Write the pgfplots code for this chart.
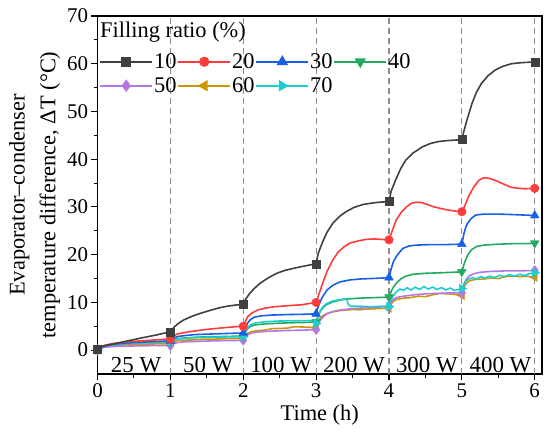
\documentclass[border=0pt]{standalone}
\usepackage{fontspec}
\setmainfont{Liberation Serif}
\usepackage{pgfplots}
\pgfplotsset{compat=1.18}
\definecolor{c10}{RGB}{64,64,64}
\definecolor{c20}{RGB}{255,59,59}
\definecolor{c30}{RGB}{22,95,230}
\definecolor{c40}{RGB}{35,170,95}
\definecolor{c50}{RGB}{180,120,230}
\definecolor{c60}{RGB}{205,150,10}
\definecolor{c70}{RGB}{30,205,205}
\definecolor{dgray}{RGB}{140,140,140}
\pgfplotsset{
  legline/.style={legend image code/.code={\draw[mark repeat=2,mark phase=2] plot coordinates {(0bp,0bp)(26bp,0bp)(52bp,0bp)};}},
  ser/.style={#1, line width=1.6pt, no markers},
  mk/.style={#1, only marks, mark options={solid, fill=#1, draw=#1}},
}
\begin{document}
\begin{tikzpicture}
\begin{axis}[
  name=ax, at={(0,0)}, anchor=south west,
  scale only axis, width=444.5bp, height=358bp,
  xmin=0, xmax=6.1, ymin=-5, ymax=70,
  xtick={0,1,2,3,4,5,6}, ytick={0,10,20,30,40,50,60,70},
  minor x tick num=1, minor y tick num=1,
  tick pos=left, tick align=outside,
  major tick length=6bp, minor tick length=3.5bp,
  axis line style={line width=1.1pt},
  every tick/.style={black, line width=1.1pt},
  /pgf/number format/assume math mode=true,
  ticklabel style={font=\fontsize{21}{21}\selectfont},
  xlabel={Time (h)},
  ylabel={Evaporator–condenser\\temperature difference, ΔT (°C)},
  label style={font=\fontsize{22.5}{31}\selectfont},
  ylabel style={align=center},
  legend columns=4,
  legend style={draw=none, fill=none, at={(0.004,0.898)}, anchor=north west,
    font=\fontsize{22.5}{22.5}\selectfont, inner sep=0pt, row sep=6bp,
    nodes={inner sep=1bp, text height=15bp, text depth=1bp}},
]
% vertical dashed separators
\addplot[forget plot, dgray, line width=1.1pt, dash pattern=on 6bp off 4bp] coordinates {(1,-5)(1,70)};
\addplot[forget plot, dgray, line width=1.1pt, dash pattern=on 6bp off 4bp] coordinates {(2,-5)(2,70)};
\addplot[forget plot, dgray, line width=1.1pt, dash pattern=on 6bp off 4bp] coordinates {(3,-5)(3,70)};
\addplot[forget plot, dgray, line width=1.1pt, dash pattern=on 6bp off 4bp] coordinates {(4,-5)(4,70)};
\addplot[forget plot, dgray, line width=1.1pt, dash pattern=on 6bp off 4bp] coordinates {(5,-5)(5,70)};
\addplot[forget plot, dgray, line width=1.1pt, dash pattern=on 6bp off 4bp] coordinates {(6,-5)(6,70)};

% 60 %
\addplot[forget plot, ser=c60] coordinates {
(0,0.0)(0.05,0.5)(0.1,0.75)(0.2,0.95)(0.4,1.15)(0.6,1.25)(0.8,1.3)(1,1.35)
(1.04,1.8)(1.1,2.0)(1.2,2.1)(1.35,2.15)(1.45,2.3)(1.6,2.3)(1.75,2.4)(1.9,2.45)(2,2.45)
(2.03,3.0)(2.07,3.6)(2.12,3.9)(2.2,4.1)(2.3,4.2)(2.4,4.5)(2.5,4.55)(2.6,4.6)(2.7,4.9)(2.8,4.85)(2.9,4.8)(3,4.7)
(3.03,6.0)(3.06,6.8)(3.1,7.3)(3.15,7.7)(3.23,8.0)(3.33,8.3)(3.5,8.5)(3.6,8.45)(3.7,8.6)(3.85,8.7)(4,8.8)
(4.03,9.7)(4.06,10.2)(4.1,10.6)(4.2,10.9)(4.3,11.0)(4.4,11.3)(4.5,11.2)(4.6,11.6)(4.7,11.9)(4.8,11.8)(4.9,11.7)(5,11.5)
(5.03,13.2)(5.06,14.0)(5.1,14.5)(5.18,14.8)(5.3,14.9)(5.4,15.1)(5.5,15.0)(5.6,15.4)(5.7,15.5)(5.8,15.4)(5.9,15.5)(5.97,15.2)(6,15.3)};
% 50 %
\addplot[forget plot, ser=c50] coordinates {
(0,0.0)(0.05,0.4)(0.1,0.6)(0.2,0.75)(0.4,0.85)(0.6,0.9)(0.8,0.95)(1,0.95)
(1.04,1.3)(1.1,1.6)(1.2,1.75)(1.4,1.85)(1.6,1.95)(1.8,2.0)(2,2.05)
(2.03,2.8)(2.07,3.3)(2.12,3.6)(2.2,3.8)(2.35,3.95)(2.5,4.05)(2.7,4.15)(2.85,4.2)(3,4.3)
(3.03,5.5)(3.06,6.3)(3.1,7.0)(3.15,7.6)(3.23,8.1)(3.33,8.4)(3.5,8.7)(3.7,8.9)(3.85,9.0)(4,9.2)
(4.03,10.0)(4.06,10.6)(4.1,11.0)(4.2,11.3)(4.35,11.6)(4.5,11.8)(4.7,11.9)(4.85,12.0)(5,12.0)
(5.03,13.8)(5.06,14.8)(5.1,15.5)(5.16,16.0)(5.25,16.3)(5.4,16.5)(5.6,16.6)(5.8,16.6)(6,16.7)};
% 40 %
\addplot[forget plot, ser=c40] coordinates {
(0,0.1)(0.05,0.55)(0.1,0.85)(0.2,1.1)(0.35,1.35)(0.5,1.5)(0.7,1.6)(0.85,1.7)(1,1.75)
(1.04,2.2)(1.1,2.4)(1.2,2.55)(1.35,2.7)(1.5,2.8)(1.7,2.85)(2,2.95)
(2.03,3.8)(2.06,4.5)(2.1,5.0)(2.17,5.3)(2.3,5.5)(2.5,5.65)(2.7,5.75)(2.85,5.8)(3,5.9)
(3.03,7.2)(3.06,8.2)(3.1,9.0)(3.15,9.6)(3.23,10.1)(3.33,10.5)(3.46,10.75)(3.6,10.9)(3.8,11.0)(4,11.1)
(4.03,12.3)(4.06,13.2)(4.1,14.0)(4.16,14.9)(4.23,15.5)(4.33,15.9)(4.5,16.1)(4.7,16.2)(4.85,16.3)(5,16.4)
(5.03,18.0)(5.06,19.2)(5.08,19.9)(5.13,21.0)(5.2,21.7)(5.3,22.0)(5.5,22.2)(5.7,22.3)(5.85,22.3)(6,22.4)};
% 70 %
\addplot[forget plot, ser=c70] coordinates {
(0,0.0)(0.05,0.55)(0.1,0.85)(0.2,1.1)(0.35,1.35)(0.5,1.5)(0.7,1.6)(0.85,1.65)(1,1.7)
(1.04,2.1)(1.1,2.35)(1.2,2.5)(1.35,2.6)(1.5,2.7)(1.7,2.75)(2,2.8)
(2.03,3.9)(2.06,4.7)(2.1,5.3)(2.17,5.7)(2.3,5.95)(2.5,6.1)(2.7,6.15)(2.95,6.2)(3,5.6)
(3.03,7.3)(3.06,8.3)(3.1,9.2)(3.15,9.8)(3.23,10.3)(3.33,10.6)(3.42,10.8)(3.44,9.6)(3.47,9.2)(3.6,9.2)(3.75,9.1)(3.9,9.2)(4,9.1)
(4.03,10.6)(4.06,11.4)(4.1,12.2)(4.15,12.8)(4.2,12.5)(4.25,13.1)(4.3,12.6)(4.36,13.2)(4.42,12.7)(4.48,13.3)(4.54,12.8)(4.6,13.2)(4.66,12.7)(4.72,13.1)(4.78,12.6)(4.84,13.0)(4.9,12.5)(4.95,12.7)(5,12.9)
(5.03,14.0)(5.06,14.6)(5.1,14.9)(5.15,15.2)(5.2,14.9)(5.26,15.4)(5.32,15.1)(5.38,15.5)(5.45,15.2)(5.52,15.7)(5.58,15.4)(5.65,15.8)(5.72,15.5)(5.8,15.9)(5.86,15.6)(5.92,16.0)(6,16.2)};
% 30 %
\addplot[forget plot, ser=c30] coordinates {
(0,0.1)(0.05,0.6)(0.1,0.9)(0.2,1.2)(0.35,1.45)(0.5,1.6)(0.7,1.75)(0.85,1.85)(1,1.95)
(1.04,2.5)(1.1,2.85)(1.2,3.05)(1.33,3.25)(1.5,3.35)(1.7,3.45)(2,3.6)
(2.03,4.6)(2.06,5.7)(2.1,6.4)(2.15,6.9)(2.25,7.2)(2.4,7.35)(2.6,7.45)(2.8,7.5)(3,7.6)
(3.03,9.2)(3.06,10.3)(3.09,11.2)(3.15,12.6)(3.23,13.6)(3.33,14.3)(3.46,14.7)(3.6,14.9)(3.75,15.0)(3.9,15.1)(4,15.2)
(4.03,17.0)(4.06,18.5)(4.1,19.6)(4.15,20.6)(4.19,21.3)(4.27,21.8)(4.37,22.0)(4.55,22.1)(4.75,22.1)(5,22.2)
(5.03,24.5)(5.06,26.0)(5.08,26.6)(5.13,27.6)(5.19,28.3)(5.3,28.5)(5.5,28.5)(5.7,28.4)(5.85,28.3)(6,28.2)};
% 20 %
\addplot[forget plot, ser=c20] coordinates {
(0,0.2)(0.05,0.7)(0.1,1.0)(0.2,1.35)(0.35,1.65)(0.5,1.85)(0.7,2.05)(0.85,2.2)(1,2.3)
(1.04,3.0)(1.1,3.4)(1.2,3.7)(1.33,4.0)(1.5,4.35)(1.7,4.65)(1.85,4.85)(2,5.0)
(2.03,6.0)(2.06,7.0)(2.12,7.8)(2.2,8.4)(2.3,8.8)(2.43,9.1)(2.6,9.3)(2.8,9.5)(3,10.0)
(3.04,11.8)(3.09,14.0)(3.15,16.5)(3.23,18.9)(3.3,20.5)(3.38,21.6)(3.46,22.4)(3.58,22.9)(3.69,23.2)(3.8,23.3)(3.9,23.2)(4,23.1)
(4.04,24.8)(4.1,27.3)(4.17,28.9)(4.24,30.0)(4.3,30.7)(4.37,31.0)(4.45,30.9)(4.53,30.5)(4.6,30.1)(4.7,29.7)(4.83,29.3)(4.92,29.1)(5,29.0)
(5.04,30.2)(5.09,32.1)(5.16,34.1)(5.23,35.5)(5.28,36.0)(5.33,36.1)(5.4,35.9)(5.5,35.3)(5.6,34.6)(5.68,34.1)(5.78,33.9)(5.87,33.8)(6,33.9)};
% 10 %
\addplot[forget plot, ser=c10] coordinates {
(0,0.2)(0.05,0.7)(0.1,0.95)(0.2,1.25)(0.3,1.55)(0.4,1.9)(0.5,2.2)(0.6,2.55)(0.7,2.85)(0.8,3.15)(0.9,3.5)(1,3.8)
(1.05,4.8)(1.1,5.5)(1.18,6.3)(1.3,7.1)(1.41,7.7)(1.55,8.35)(1.68,8.9)(1.8,9.25)(1.9,9.45)(2,9.6)
(2.03,10.6)(2.09,11.9)(2.15,12.9)(2.23,14.0)(2.35,15.2)(2.46,16.1)(2.57,16.7)(2.68,17.1)(2.8,17.5)(2.9,17.8)(3,18.1)
(3.03,20.3)(3.09,22.7)(3.15,24.7)(3.23,26.6)(3.32,28.0)(3.41,29.0)(3.52,29.9)(3.64,30.5)(3.76,30.8)(3.87,31.0)(4,31.1)
(4.03,33.3)(4.09,35.6)(4.16,38.0)(4.23,39.8)(4.33,41.3)(4.46,42.6)(4.57,43.3)(4.68,43.7)(4.8,43.9)(4.9,44.0)(5,44.1)
(5.03,46.0)(5.07,48.2)(5.14,51.7)(5.2,54.0)(5.27,55.9)(5.36,57.5)(5.46,58.7)(5.57,59.5)(5.68,60.0)(5.8,60.2)(5.9,60.3)(6,60.4)};

% markers at the hour marks
\addplot[forget plot, mk=c60, mark=triangle*, mark size=5bp, mark options={rotate=90}] coordinates {(0,0.0)(1,1.35)(2,2.45)(3,4.7)(4,8.8)(5,11.5)(6,15.3)};
\addplot[forget plot, mk=c50, mark=diamond*, mark size=5bp] coordinates {(0,0.0)(1,0.95)(2,2.05)(3,4.3)(4,9.2)(5,12.0)(6,16.7)};
\addplot[forget plot, mk=c40, mark=triangle*, mark size=5bp, mark options={rotate=180}] coordinates {(0,0.1)(1,1.75)(2,2.95)(3,5.9)(4,11.1)(5,16.4)(6,22.4)};
\addplot[forget plot, mk=c70, mark=triangle*, mark size=5bp, mark options={rotate=-90}] coordinates {(0,0.0)(1,1.7)(2,2.8)(3,5.6)(4,9.1)(5,12.9)(6,16.2)};
\addplot[forget plot, mk=c30, mark=triangle*, mark size=5bp] coordinates {(0,0.1)(1,1.95)(2,3.6)(3,7.6)(4,15.2)(5,22.2)(6,28.2)};
\addplot[forget plot, mk=c20, mark=*, mark size=4.3bp] coordinates {(0,0.2)(1,2.3)(2,5.0)(3,10.0)(4,23.1)(5,29.0)(6,33.9)};
\addplot[forget plot, mk=c10, mark=square*, mark size=4bp] coordinates {(0,0.2)(1,3.8)(2,9.6)(3,18.1)(4,31.1)(5,44.1)(6,60.4)};

% power labels
\node[anchor=base, font=\fontsize{23}{23}\selectfont] at (axis cs:0.53,-4.7) {25 W};
\node[anchor=base, font=\fontsize{23}{23}\selectfont] at (axis cs:1.52,-4.7) {50 W};
\node[anchor=base, font=\fontsize{23}{23}\selectfont] at (axis cs:2.52,-4.7) {100 W};
\node[anchor=base, font=\fontsize{23}{23}\selectfont] at (axis cs:3.52,-4.7) {200 W};
\node[anchor=base, font=\fontsize{23}{23}\selectfont] at (axis cs:4.52,-4.7) {300 W};
\node[anchor=base, font=\fontsize{23}{23}\selectfont] at (axis cs:5.53,-4.7) {400 W};

% legend title
\node[anchor=north west, inner sep=2bp, font=\fontsize{22.5}{22.5}\selectfont] at ([xshift=0.5bp,yshift=-3.5bp]rel axis cs:0,1) {Filling ratio (\%)};

% legend
\addlegendimage{legline, c10, line width=1.6pt, mark=square*, mark size=4bp, mark options={solid, fill=c10}}
\addlegendentry{10}
\addlegendimage{legline, c20, line width=1.6pt, mark=*, mark size=4.3bp, mark options={solid, fill=c20}}
\addlegendentry{20}
\addlegendimage{legline, c30, line width=1.6pt, mark=triangle*, mark size=5bp, mark options={solid, fill=c30}}
\addlegendentry{30}
\addlegendimage{legline, c40, line width=1.6pt, mark=triangle*, mark size=5bp, mark options={solid, fill=c40, rotate=180}}
\addlegendentry{40}
\addlegendimage{legline, c50, line width=1.6pt, mark=diamond*, mark size=5bp, mark options={solid, fill=c50}}
\addlegendentry{50}
\addlegendimage{legline, c60, line width=1.6pt, mark=triangle*, mark size=5bp, mark options={solid, fill=c60, rotate=90}}
\addlegendentry{60}
\addlegendimage{legline, c70, line width=1.6pt, mark=triangle*, mark size=5bp, mark options={solid, fill=c70, rotate=-90}}
\addlegendentry{70}
\end{axis}
\pgfresetboundingbox
\path[use as bounding box] (-97.5bp,-68bp) rectangle (452.5bp,374bp);
\end{tikzpicture}
\end{document}
